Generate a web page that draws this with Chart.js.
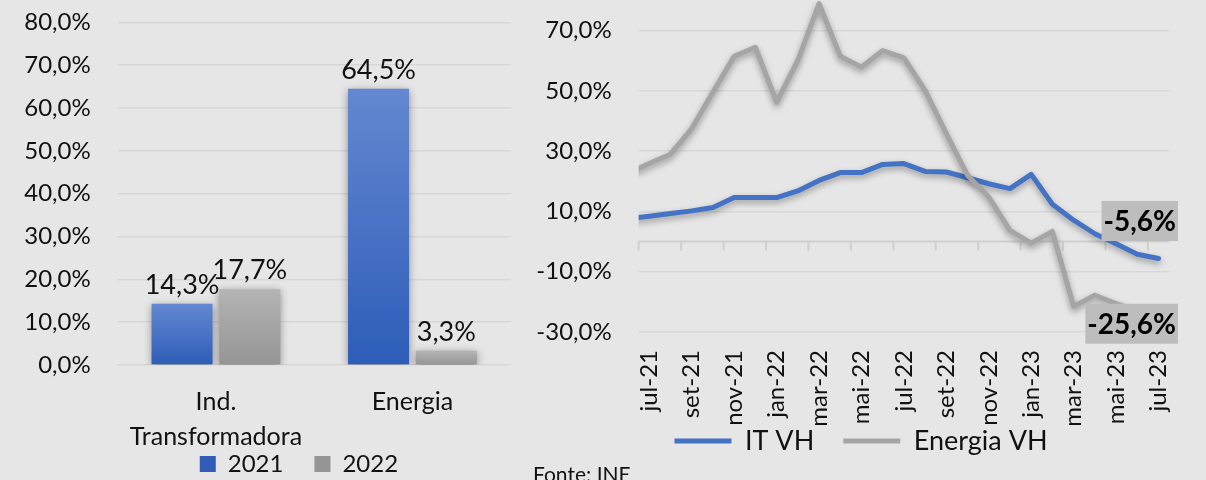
<!DOCTYPE html>
<html>
<head>
<meta charset="utf-8">
<script src="https://cdn.jsdelivr.net/npm/chart.js@4.4.1/dist/chart.umd.min.js"></script>
<style>
  html, body { margin: 0; padding: 0; width: 1206px; height: 480px; overflow: hidden; background: #e6e6e6; font-family: Lato, sans-serif; }
  /* o Chart.js soma o padding das marcas do eixo y ao topo; compensa-se com top negativo */
  #barWrap { position: absolute; left: 0; top: -19px; width: 520px; height: 538px; }
  #lineWrap { position: absolute; left: 520px; top: -71px; width: 686px; height: 569px; }
  #fonte { position: absolute; left: 533px; top: 462.5px; font-size: 21px; line-height: 21px; color: #111; }
</style>
</head>
<body>
<div id="barWrap"><canvas id="barChart"></canvas></div>
<div id="lineWrap"><canvas id="lineChart"></canvas></div>
<div id="fonte">Fonte: INE</div>
<script>
// --- dados: gráfico de barras (VH anual)
const barCategories = [['Ind.', 'Transformadora'], 'Energia'];
const bar2021 = [14.3, 64.5];
const bar2022 = [17.7, 3.3];

// --- dados: gráfico de linhas (VH mensal). jun-21 fica fora do eixo, só dá o início da linha
const months = ['jun-21', 'jul-21', 'ago-21', 'set-21', 'out-21', 'nov-21', 'dez-21',
    'jan-22', 'fev-22', 'mar-22', 'abr-22', 'mai-22', 'jun-22', 'jul-22', 'ago-22', 'set-22',
    'out-22', 'nov-22', 'dez-22', 'jan-23', 'fev-23', 'mar-23', 'abr-23', 'mai-23', 'jun-23', 'jul-23'];
const itVH = [7.6, 8.4, 9.3, 10.2, 11.3, 14.6, 14.6, 14.6, 16.8, 20.3, 22.9, 22.9, 25.6,
    25.9, 23.3, 23.1, 21.2, 19.2, 17.6, 22.3, 12.4, 7.1, 2.6, -0.7, -4.2, -5.6];
const energiaVH = [22.7, 25.9, 29.0, 37.5, 49.6, 61.5, 64.5, 46.3, 60.1, 79.0, 61.5, 57.9, 63.4,
    61.0, 50.2, 35.8, 22.0, 14.8, 3.7, -0.5, 3.4, -21.5, -17.8, -20.6, -23.0, -25.6];

const textColor = '#111'
const fontFamily = 'Lato'
Chart.defaults.font.family = fontFamily
Chart.defaults.color = textColor

// 12,3 -> "12,3%"
const pct = (v) => Number(v).toFixed(1).replace('.', ',') + '%'

// gradiente vertical por barra (topo claro, base escura)
function barFill(top, mid, bottom) {
    return (c) => {
        if (c.type !== 'data') return mid
        const y = c.chart.scales.y
        if (!y) return mid
        const y0 = y.getPixelForValue(c.parsed.y)
        const y1 = y.getPixelForValue(0)
        if (!isFinite(y0) || !isFinite(y1) || y0 === y1) return mid
        const g = c.chart.ctx.createLinearGradient(0, y0, 0, y1)
        g.addColorStop(0, top)
        g.addColorStop(1, bottom)
        return g
    }
}

// sombra suave nas séries (como no Excel)
const softShadow = {
    id: 'softShadow',
    beforeDatasetsDraw(chart, args, opts) {
        const ctx = chart.ctx
        ctx.save()
        ctx.shadowColor = opts.color
        ctx.shadowBlur = opts.blur
        ctx.shadowOffsetX = 0
        ctx.shadowOffsetY = opts.offsetY
    },
    afterDatasetsDraw(chart) {
        chart.ctx.restore()
    }
}

// valores por cima das barras
const barValues = {
    id: 'barValues',
    afterDatasetsDraw(chart, args, opts) {
        const ctx = chart.ctx
        ctx.save()
        ctx.font = opts.size + 'px ' + fontFamily
        ctx.fillStyle = textColor
        ctx.textAlign = 'center'
        ctx.textBaseline = 'alphabetic'
        chart.data.datasets.forEach((ds, di) => {
            chart.getDatasetMeta(di).data.forEach((bar, i) => {
                ctx.fillText(pct(ds.data[i]), bar.x, bar.y - opts.offset)
            })
        })
        ctx.restore()
    }
}

// o Excel não centra a legenda na área toda; desloca-a
const legendShift = {
    id: 'legendShift',
    afterLayout(chart, args, opts) {
        const l = chart.legend
        if (!l) return
        l.left += opts.dx; l.right += opts.dx
        l.top += opts.dy; l.bottom += opts.dy
    }
}

// eixo horizontal no zero com marcas a cada 2 meses
const zeroAxis = {
    id: 'zeroAxis',
    beforeDatasetsDraw(chart, args, opts) {
        const { ctx, chartArea, scales: { x, y } } = chart
        const y0 = y.getPixelForValue(0)
        const half = (x.getPixelForValue(2) - x.getPixelForValue(1)) / 2
        ctx.save()
        ctx.strokeStyle = opts.color
        ctx.lineWidth = opts.width
        ctx.beginPath()
        ctx.moveTo(chartArea.left, y0)
        ctx.lineTo(chartArea.right, y0)
        for (let i = 1; i < months.length; i += 2) {
            const px = x.getPixelForValue(i) - half
            ctx.moveTo(px, y0)
            ctx.lineTo(px, y0 + opts.tick)
        }
        ctx.stroke()
        ctx.restore()
    }
}

// rótulo do último valor de cada série, com fundo cinzento
const endLabels = {
    id: 'endLabels',
    afterDatasetsDraw(chart, args, opts) {
        const ctx = chart.ctx
        chart.data.datasets.forEach((ds, di) => {
            const meta = chart.getDatasetMeta(di)
            const pt = meta.data[meta.data.length - 1]
            const txt = pct(ds.data[ds.data.length - 1])
            ctx.save()
            ctx.font = 'bold ' + opts.size + 'px ' + fontFamily
            const w = ctx.measureText(txt).width + opts.padX * 2
            const right = pt.x + opts.dx
            const cy = pt.y + ds.endLabelDy
            ctx.fillStyle = opts.background
            ctx.fillRect(right - w, cy - opts.boxHeight / 2, w, opts.boxHeight)
            ctx.fillStyle = '#000'
            ctx.textAlign = 'right'
            ctx.textBaseline = 'middle'
            ctx.fillText(txt, right - opts.padX, cy + 1)
            ctx.restore()
        })
    }
}

new Chart(document.getElementById('barChart'), {
    type: 'bar',
    data: {
        labels: barCategories,
        datasets: [
            { label: '2021', data: bar2021, backgroundColor: barFill('#6488d1', '#4170c4', '#2d5db8') },
            { label: '2022', data: bar2022, backgroundColor: barFill('#b4b4b4', '#a3a3a3', '#959595') }
        ]
    },
    options: {
        responsive: true,
        maintainAspectRatio: false,
        animation: false,
        layout: { padding: { top: 0, right: 9.3, left: 0, bottom: 0 } },
        datasets: { bar: { categoryPercentage: 0.69, barPercentage: 0.9 } },
        scales: {
            x: {
                grid: { display: false, drawTicks: false },
                border: { display: false },
                ticks: { padding: 19, font: { size: 25, lineHeight: 1.4 } },
                afterFit(s) { s.height = 89 }
            },
            y: {
                min: 0,
                max: 80,
                border: { display: false },
                grid: { color: '#d7d7d7', lineWidth: 1.5, drawTicks: false },
                ticks: { stepSize: 10, padding: 27, font: { size: 24, lineHeight: 1.2 }, callback: pct },
                afterFit(s) { s.width = 117.7 }
            }
        },
        plugins: {
            legend: {
                position: 'bottom',
                labels: { boxWidth: 16, boxHeight: 16, padding: 31, font: { size: 24 } }
            },
            tooltip: { enabled: false },
            softShadow: { color: 'rgba(0,0,0,0.4)', blur: 8, offsetY: 2 },
            barValues: { size: 27, offset: 10 },
            legendShift: { dx: 43.6, dy: -33 }
        }
    },
    plugins: [softShadow, barValues, legendShift]
})

new Chart(document.getElementById('lineChart'), {
    type: 'line',
    data: {
        labels: months,
        datasets: [
            {
                label: 'IT VH', data: itVH, order: 1, endLabelDy: -37.5,
                borderColor: '#4472c4', backgroundColor: '#4472c4', borderWidth: 5
            },
            {
                label: 'Energia VH', data: energiaVH, order: 0, endLabelDy: 5,
                borderColor: '#a5a5a5', backgroundColor: '#a5a5a5', borderWidth: 5
            }
        ]
    },
    options: {
        responsive: true,
        maintainAspectRatio: false,
        animation: false,
        layout: { padding: { top: 0, right: 35, left: 0, bottom: 0 } },
        elements: {
            point: { radius: 0 },
            line: { tension: 0, borderCapStyle: 'round', borderJoinStyle: 'round' }
        },
        datasets: { line: { clip: 0 } },
        scales: {
            x: {
                min: 'jul-21',
                offset: true,
                grid: { display: false, drawTicks: false },
                border: { display: false },
                ticks: {
                    autoSkip: false, maxRotation: 90, minRotation: 90, padding: 18,
                    font: { size: 24 },
                    callback(v, i) { return i % 2 === 0 ? this.getLabelForValue(v) : '' }
                },
                afterFit(s) { s.height = 100 }
            },
            y: {
                min: -30,
                max: 90,
                border: { display: false },
                grid: { color: '#d7d7d7', lineWidth: 1.5, drawTicks: false },
                ticks: { stepSize: 20, padding: 27, font: { size: 24, lineHeight: 1.2 }, callback: pct },
                afterFit(s) { s.width = 118.7 }
            }
        },
        plugins: {
            legend: {
                position: 'bottom',
                labels: {
                    usePointStyle: true, pointStyle: 'line', pointStyleWidth: 57,
                    padding: 29, font: { size: 27 },
                    sort: (a, b) => a.datasetIndex - b.datasetIndex
                }
            },
            tooltip: { enabled: false },
            zeroAxis: { color: '#cfcfcf', width: 2, tick: 9 },
            softShadow: { color: 'rgba(0,0,0,0.35)', blur: 6, offsetY: 3 },
            endLabels: { size: 28, padX: 2, boxHeight: 40, dx: 19.5, background: '#bdbdbd' },
            legendShift: { dx: 15.5, dy: -33.5 }
        }
    },
    plugins: [zeroAxis, softShadow, endLabels, legendShift]
})
</script>
</body>
</html>
